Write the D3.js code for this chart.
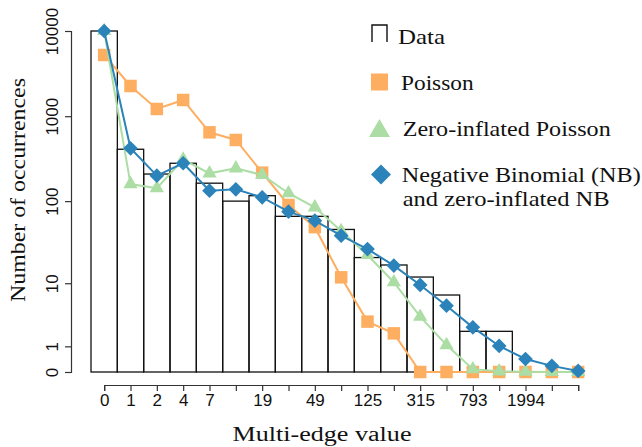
<!DOCTYPE html>
<html>
<head>
<meta charset="utf-8">
<script src="https://cdn.jsdelivr.net/npm/d3@7/dist/d3.min.js"></script>
<style>
body { margin: 0; background: #fff; }
svg { display: block; }
</style>
</head>
<body>
<svg width="642" height="447"></svg>
<script>
// bins of multi-edge value, 0..18
var bins = d3.range(19);
var binLabels = {0:"0", 1:"1", 2:"2", 3:"4", 4:"7", 6:"19", 8:"49", 10:"125", 12:"315", 14:"793", 16:"1994"};

var dataCounts = [10000, 409, 209, 280, 163, 100, 116, 66, 66, 46, 21, 17, 12, 7, 2, 2, 0, 0, 0];
var poisson    = [5230, 2263, 1216, 1551, 647, 526, 217, 90, 49, 11.9, 2.9, 1.84, 0, 0, 0, 0, 0, 0, 0];
var zip        = [10000, 159, 142, 310, 213, 244, 204, 124, 84.5, 44, 22.6, 10.3, 3.46, 1.07, 0.08, 0.02, 0.01, 0, 0];
var negbin     = [10000, 420, 200, 280, 133, 138, 111, 75, 58.6, 38.7, 26.7, 16.7, 9.5, 5.0, 2.34, 1.02, 0.42, 0.18, 0.03];

var yTicks = [0, 1, 10, 100, 1000, 10000];

var svg = d3.select("svg");

var x = d3.scaleLinear().domain([0, 18]).range([104.17, 578.17]);
var bw = x(1) - x(0);
var y = d3.scaleSymlog().constant(1).domain([0, 10000]).range([372, 31]);

var orange = "#fdae61", green = "#abdda4", blue = "#2b83ba";

// histogram bars
svg.selectAll("rect.bar")
    .data(dataCounts)
    .enter().append("rect")
    .attr("class", "bar")
    .attr("x", function(d,i){ return x(i) - bw/2; })
    .attr("y", function(d){ return y(d); })
    .attr("width", bw)
    .attr("height", function(d){ return y(0) - y(d); })
    .attr("fill", "none")
    .attr("stroke", "#111")
    .attr("stroke-width", 1.3);

// axes
var yAxis = svg.append("g")
    .attr("transform", "translate(71,0)")
    .call(d3.axisLeft(y).tickValues(yTicks).tickSizeOuter(0).tickSize(6)
        .tickFormat(d3.format("d")));
yAxis.selectAll("text")
    .attr("transform", "rotate(-90)")
    .attr("x", 0).attr("y", -13).attr("dy", 0)
    .attr("text-anchor", "middle");

var xAxis = svg.append("g")
    .attr("transform", "translate(0,385)")
    .call(d3.axisBottom(x).tickValues(bins).tickSizeOuter(0).tickSize(6)
        .tickFormat(function(d){ return binLabels[d] || ""; }));

svg.selectAll(".tick text")
    .attr("font-family", "'Liberation Sans', Arial, sans-serif")
    .attr("font-size", 17)
    .attr("fill", "#111");
svg.selectAll(".domain, .tick line").attr("stroke", "#333").attr("stroke-width", 1.2);

// model lines and markers
var line = d3.line()
    .x(function(d,i){ return x(i); })
    .y(function(d){ return y(d); });

function series(vals, color, symbolType, size, rot) {
    svg.append("path")
        .datum(vals)
        .attr("d", line)
        .attr("fill", "none")
        .attr("stroke", color)
        .attr("stroke-width", 2);
    svg.append("g").selectAll("path")
        .data(vals)
        .enter().append("path")
        .attr("d", d3.symbol().type(symbolType).size(size))
        .attr("transform", function(d,i){ return "translate(" + x(i) + "," + y(d) + ") rotate(" + rot + ")"; })
        .attr("fill", color);
}

series(poisson, orange, d3.symbolSquare, 156, 0);
series(zip, green, d3.symbolTriangle, 88, 0);
series(negbin, blue, d3.symbolSquare, 108, 45);

// legend
var serif = "'Liberation Serif', 'DejaVu Serif', serif";
var lg = svg.append("g");
lg.append("path")
    .attr("d", "M372,42V25H387V42")
    .attr("fill", "none").attr("stroke", "#111").attr("stroke-width", 1.4);
lg.append("path")
    .attr("d", d3.symbol().type(d3.symbolSquare).size(289))
    .attr("transform", "translate(379.5,82)").attr("fill", orange);
lg.append("path")
    .attr("d", d3.symbol().type(d3.symbolTriangle).size(190))
    .attr("transform", "translate(379.5,131)").attr("fill", green);
lg.append("path")
    .attr("d", d3.symbol().type(d3.symbolSquare).size(200))
    .attr("transform", "translate(381,174.5) rotate(45)").attr("fill", blue);

var legendText = [
    ["Data", 398, 43.5, 47],
    ["Poisson", 401, 90, 72.6],
    ["Zero-inflated Poisson", 402.7, 135.7, 208],
    ["Negative Binomial (NB)", 401.7, 181.7, 239],
    ["and zero-inflated NB", 402.7, 206, 207]
];
lg.selectAll("text")
    .data(legendText)
    .enter().append("text")
    .attr("x", function(d){ return d[1]; })
    .attr("y", function(d){ return d[2]; })
    .attr("textLength", function(d){ return d[3]; })
    .attr("lengthAdjust", "spacingAndGlyphs")
    .attr("font-family", serif)
    .attr("font-size", 21)
    .attr("fill", "#111")
    .text(function(d){ return d[0]; });

// axis titles
svg.append("text")
    .attr("transform", "translate(25,190) rotate(-90)")
    .attr("text-anchor", "middle")
    .attr("textLength", 224)
    .attr("lengthAdjust", "spacingAndGlyphs")
    .attr("font-family", serif)
    .attr("font-size", 20)
    .attr("fill", "#111")
    .text("Number of occurrences");

svg.append("text")
    .attr("x", 322).attr("y", 441)
    .attr("text-anchor", "middle")
    .attr("textLength", 179)
    .attr("lengthAdjust", "spacingAndGlyphs")
    .attr("font-family", serif)
    .attr("font-size", 20)
    .attr("fill", "#111")
    .text("Multi-edge value");
</script>
</body>
</html>
